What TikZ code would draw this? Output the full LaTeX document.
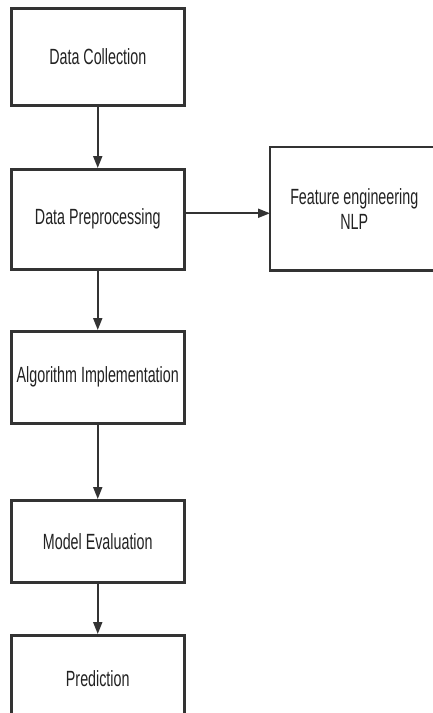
\documentclass[tikz,border=0pt]{standalone}
\usepackage{fontspec}
\setmainfont{Liberation Sans}
\usetikzlibrary{arrows.meta,calc}
\definecolor{edge}{HTML}{333333}
\definecolor{txt}{HTML}{222222}
\newcommand{\sqz}[1]{\scalebox{0.65}[1]{#1}}
\begin{document}
\begin{tikzpicture}[x=1pt,y=-1pt,
  box/.style={draw=edge,line width=2.5pt,fill=white,anchor=north west,inner sep=0pt,
    text=txt,font=\fontsize{22}{26}\selectfont,align=center},
  border/.style={draw=edge,line width=2.5pt},
  conn/.style={draw=edge,line width=1.8pt,-{Triangle[length=12pt,width=9pt]}}]
\useasboundingbox (0,0) rectangle (433,713);
\fill[white] (0,0) rectangle (433,713);
\begin{scope}
\clip (0,0) rectangle (433,713);
\node[box,minimum width=173pt,minimum height=97pt] (dc) at (10,7) {\sqz{Data Collection}};
\node[box,minimum width=173pt,minimum height=100pt] (dp) at (10,168) {\sqz{Data Preprocessing}};
\node[box,draw=none,minimum width=166pt,minimum height=121pt] (fe) at (270,147) {\sqz{Feature engineering}\\[-1pt]\sqz{NLP}};
\draw[border] ([xshift=40pt]fe.north east) -- (fe.north west) -- (fe.south west) -- ([xshift=40pt]fe.south east);
\node[box,minimum width=173pt,minimum height=92pt] (ai) at (10,330) {\sqz{Algorithm Implementation}};
\node[box,minimum width=173pt,minimum height=82pt] (me) at (10,499) {\sqz{Model Evaluation}};
\node[box,minimum width=173pt,minimum height=86pt] (pr) at (10,634) {\sqz{Prediction}};
\draw[conn] (dc) -- (dp);
\draw[conn] (dp) -- (ai);
\draw[conn] (ai) -- (me);
\draw[conn] (me) -- (pr);
\coordinate (dpr) at ($(dp.east)+(0,-6)$);
\draw[conn] (dpr) -- (dpr -| fe.west);
\end{scope}
\end{tikzpicture}
\end{document}
